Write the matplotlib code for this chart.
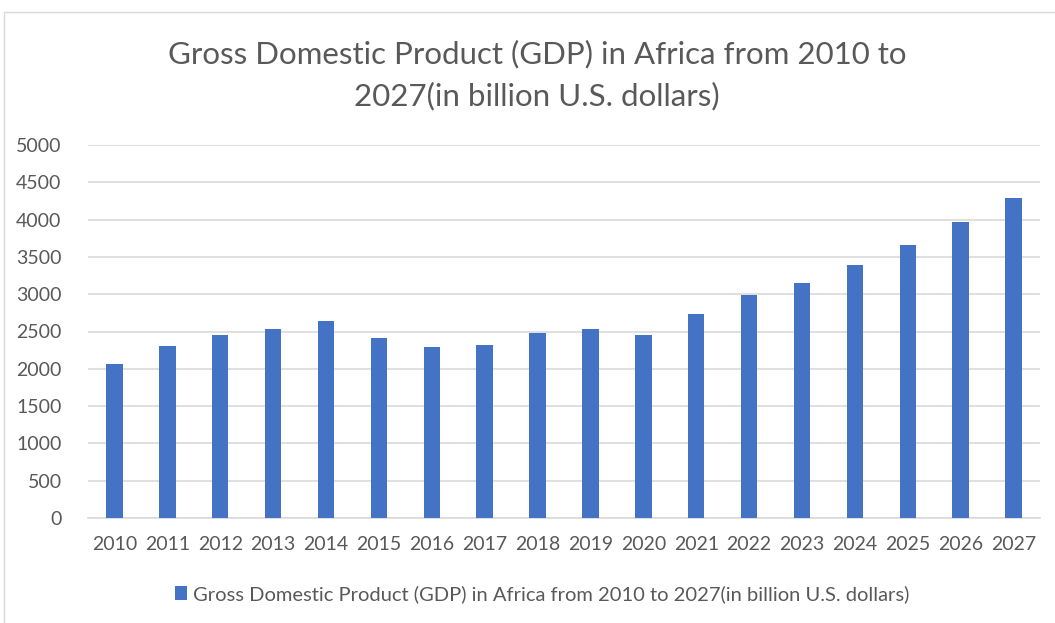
import matplotlib.pyplot as plt
from matplotlib.patches import Rectangle

years = ['2010', '2011', '2012', '2013', '2014', '2015', '2016', '2017', '2018',
         '2019', '2020', '2021', '2022', '2023', '2024', '2025', '2026', '2027']
gdp = [2064, 2310, 2453, 2538, 2641, 2408, 2292, 2323, 2484,
       2538, 2453, 2739, 2985, 3146, 3391, 3664, 3964, 4285]
yticks = [0, 500, 1000, 1500, 2000, 2500, 3000, 3500, 4000, 4500, 5000]
series_name = 'Gross Domestic Product (GDP) in Africa from 2010 to 2027(in billion U.S. dollars)'
title = 'Gross Domestic Product (GDP) in Africa from 2010 to\n2027(in billion U.S. dollars)'

plt.rcParams['font.family'] = ['Lato', 'DejaVu Sans']
text_col = '#595959'

fig = plt.figure(figsize=(10.55, 6.23), dpi=100)
fig.patches.append(Rectangle((4 / 1055, -0.1), 1.2, 1.1 - 12 / 623, transform=fig.transFigure,
                             fill=False, edgecolor='#D9D9D9', lw=1))
ax = fig.add_axes([88 / 1055, 1 - 518 / 623, (1040 - 88) / 1055, (518 - 145) / 623])

ax.bar(range(len(years)), gdp, width=0.31, color='#4472C4', label=series_name, zorder=3)
ax.set_xlim(-0.5, len(years) - 0.5)
ax.set_ylim(0, 5000)
ax.set_yticks(yticks)
ax.set_xticks(range(len(years)))
ax.set_xticklabels(years)
ax.grid(axis='y', color='#D9D9D9', lw=1.2, zorder=0)
for s in ['top', 'right', 'left']:
    ax.spines[s].set_visible(False)
ax.spines['bottom'].set_color('#D9D9D9')
ax.spines['bottom'].set_linewidth(1.2)
ax.tick_params(length=0, colors=text_col, labelsize=14)
ax.tick_params(axis='y', pad=19)
ax.tick_params(axis='x', pad=13)

fig.text(537 / 1055, 1 - 75 / 623, title, ha='center', va='center', fontsize=22.5,
         color=text_col, linespacing=1.55)
fig.legend(loc='center', bbox_to_anchor=(542 / 1055, 1 - 594 / 623), frameon=False,
           fontsize=14.5, labelcolor=text_col, handlelength=0.6, handleheight=0.7,
           handletextpad=0.3)

fig.savefig('out.png', dpi=100)
